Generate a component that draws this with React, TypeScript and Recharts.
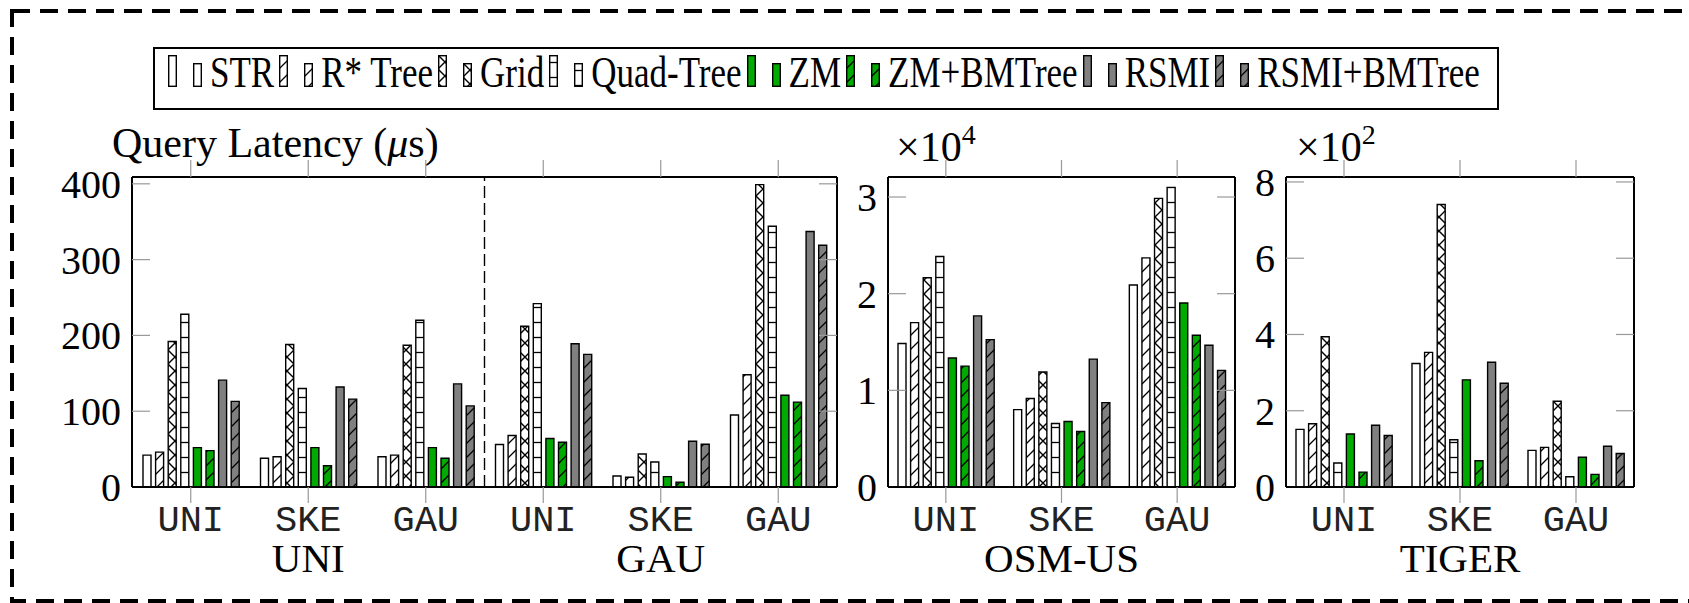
import React from 'react';
import { BarChart, Bar, XAxis, YAxis, ReferenceLine } from 'recharts';

const distributions = ['UNI', 'SKE', 'GAU'];
const methods = ['STR', 'R* Tree', 'Grid', 'Quad-Tree', 'ZM', 'ZM+BMTree', 'RSMI', 'RSMI+BMTree'];

// query latency in us, one array per query distribution, same order as methods
const uniOnUNI = [42, 46, 192, 228, 52, 48, 141, 113];
const uniOnSKE = [38, 40, 188, 130, 52, 28, 132, 116];
const uniOnGAU = [40, 42, 187, 220, 52, 38, 136, 107];

const gauOnUNI = [56, 68, 212, 242, 64, 59, 189, 175];
const gauOnSKE = [14.5, 12.8, 43.6, 33, 13.7, 6.2, 60.4, 56.4];
const gauOnGAU = [95, 148, 399, 344, 121, 112, 337, 319];

const osmOnUNI = [14850, 17000, 21650, 23850, 13350, 12500, 17700, 15250];
const osmOnSKE = [8000, 9150, 11900, 6570, 6770, 5740, 13230, 8730];
const osmOnGAU = [20900, 23700, 29860, 31000, 19040, 15700, 14670, 12060];

const tigerOnUNI = [151, 166, 394, 63, 139, 39, 162, 135];
const tigerOnSKE = [324, 353, 741, 124, 281, 69, 327, 272];
const tigerOnGAU = [96, 104, 225, 27, 78, 33, 107, 88];

const ticksUs = [0, 100, 200, 300, 400];
const ticksOsm = [0, 10000, 20000, 30000];
const ticksTiger = [0, 200, 400, 600, 800];

const fills = ['#ffffff', 'url(#hNE)', 'url(#hX)', 'url(#hH)', '#00aa00', 'url(#hNEg)', '#808080', 'url(#hNEk)'];

const makeRows = (dataset: string, rows: number[][]) =>
  rows.map((vals, i) => {
    const row: any = { key: `${dataset}/${distributions[i]}`, dataset, dist: distributions[i] };
    vals.forEach((v, j) => { row[`s${j}`] = v; });
    return row;
  });

const dataMain = [...makeRows('UNI', [uniOnUNI, uniOnSKE, uniOnGAU]), ...makeRows('GAU', [gauOnUNI, gauOnSKE, gauOnGAU])];
const dataOsm = makeRows('OSM-US', [osmOnUNI, osmOnSKE, osmOnGAU]);
const dataTiger = makeRows('TIGER', [tigerOnUNI, tigerOnSKE, tigerOnGAU]);

const serif = "'Liberation Serif', 'Times New Roman', serif";
const mono = "'Liberation Mono', 'DejaVu Sans Mono', monospace";
const tickGrey = '#999';

const CatTick = (props: any) => {
  const { x, y, payload } = props;
  const [dataset, dist] = String(payload.value).split('/');
  return (
    <g>
      <text x={x} y={y + 28} textAnchor="middle" fontFamily={mono} fontSize={37} fill="#222">{dist}</text>
      {dist === distributions[1] && (
        <text x={x} y={y + 69} textAnchor="middle" fontFamily={serif} fontSize={41} fill="#000">{dataset}</text>
      )}
    </g>
  );
};

const makeYTick = (fmt: (v: number) => string) => (props: any) => {
  const { x, y, payload } = props;
  return (
    <g>
      {payload.value !== 0 && <line x1={x + 11} x2={x + 29} y1={y} y2={y} stroke={tickGrey} strokeWidth={1.2} />}
      <text x={x} y={y} dy="0.35em" textAnchor="end" fontFamily={serif} fontSize={40} fill="#000">{fmt(payload.value)}</text>
    </g>
  );
};

const EmptyTick = () => <g />;

interface PanelProps {
  data: any[];
  left: number;
  width: number;
  plotLeft: number;
  plotRight: number;
  yWidth: number;
  domainMax: number;
  ticks: number[];
  fmt: (v: number) => string;
  divider?: string;
}

const Panel = ({ data, left, width, plotLeft, plotRight, yWidth, domainMax, ticks, fmt, divider }: PanelProps) => (
  <div style={{ position: 'absolute', left, top: 0 }}>
    <BarChart
      width={width}
      height={603}
      data={data}
      barSize={8}
      barGap={4.6}
      margin={{ top: 157, bottom: 6, left: plotLeft - left - yWidth, right: left + width - plotRight - 1 }}
    >
      <XAxis
        xAxisId="b"
        dataKey="key"
        height={110}
        interval={0}
        tickSize={16}
        tickMargin={0}
        tickLine={{ stroke: tickGrey, strokeWidth: 1.2 }}
        axisLine={{ stroke: '#000', strokeWidth: 2 }}
        tick={CatTick}
      />
      <XAxis
        xAxisId="t"
        dataKey="key"
        orientation="top"
        height={20}
        interval={0}
        tickSize={17}
        tickLine={{ stroke: tickGrey, strokeWidth: 1.2 }}
        axisLine={{ stroke: '#000', strokeWidth: 2 }}
        tick={EmptyTick}
      />
      <YAxis
        yAxisId="l"
        width={yWidth}
        domain={[0, domainMax]}
        ticks={ticks}
        allowDataOverflow
        tickLine={false}
        tickSize={11}
        tickMargin={0}
        axisLine={{ stroke: '#000', strokeWidth: 2 }}
        tick={makeYTick(fmt)}
      />
      <YAxis
        yAxisId="r"
        orientation="right"
        width={1}
        domain={[0, domainMax]}
        ticks={ticks.filter((t) => t !== 0)}
        allowDataOverflow
        tickSize={-18}
        tickLine={{ stroke: tickGrey, strokeWidth: 1.2 }}
        axisLine={{ stroke: '#000', strokeWidth: 2 }}
        tick={EmptyTick}
      />
      {methods.map((m, j) => (
        <Bar
          key={m}
          name={m}
          dataKey={`s${j}`}
          xAxisId="b"
          yAxisId="l"
          fill={fills[j]}
          stroke="#000"
          strokeWidth={1.4}
          isAnimationActive={false}
        />
      ))}
      {divider && (
        <ReferenceLine
          x={divider}
          position="start"
          xAxisId="b"
          yAxisId="l"
          stroke="#000"
          strokeWidth={1.4}
          strokeDasharray="12 5"
        />
      )}
    </BarChart>
  </div>
);

const LegendIcon = ({ fill, h }: { fill: string; h: number }) => (
  <svg width={9} height={h} style={{ display: 'block', overflow: 'visible' }}>
    <rect x={0.7} y={0.7} width={7.6} height={h - 1.4} fill={fill} stroke="#000" strokeWidth={1.4} />
  </svg>
);

const Legend = () => (
  <div
    style={{
      position: 'absolute', left: 153, top: 47, width: 1346, height: 63, boxSizing: 'border-box',
      border: '2px solid #000', display: 'flex', alignItems: 'baseline', paddingLeft: 13, paddingTop: 6,
    }}
  >
    {methods.map((m, j) => (
      <div key={m} style={{ display: 'flex', alignItems: 'baseline' }}>
        <LegendIcon fill={fills[j]} h={32} />
        <span style={{ display: 'inline-block', width: 16 }} />
        <LegendIcon fill={fills[j]} h={24} />
        <span
          style={{
            marginLeft: 8, marginRight: 5, fontFamily: serif, fontSize: 35, lineHeight: '35px',
            display: 'inline-block', transform: 'scaleY(1.25)', transformOrigin: '0 29px', color: '#000',
          }}
        >
          {m}
        </span>
      </div>
    ))}
  </div>
);

const P = 14;

const App = () => (
  <div style={{ position: 'absolute', left: 0, top: 0, width: 1689, height: 603, background: '#fff', overflow: 'hidden' }}>
    <svg width={0} height={0} style={{ position: 'absolute' }}>
      <defs>
        {[['hNE', '#ffffff'], ['hNEg', '#00aa00'], ['hNEk', '#808080']].map(([id, c]) => (
          <pattern key={id} id={id} patternUnits="userSpaceOnUse" width={P} height={P}>
            <rect width={P} height={P} fill={c} />
            <path d={`M0,${P} L${P},0 M-2,2 L2,-2 M${P - 2},${P + 2} L${P + 2},${P - 2}`} stroke="#000" strokeWidth={1.3} />
          </pattern>
        ))}
        <pattern id="hX" patternUnits="userSpaceOnUse" width={P} height={P}>
          <rect width={P} height={P} fill="#fff" />
          <path d={`M0,0 L${P},${P} M0,${P} L${P},0`} stroke="#000" strokeWidth={1.4} />
        </pattern>
        <pattern id="hH" patternUnits="userSpaceOnUse" width={15} height={15}>
          <rect width={15} height={15} fill="#fff" />
          <path d="M0,7.5 L15,7.5" stroke="#000" strokeWidth={1.3} />
        </pattern>
      </defs>
    </svg>

    <svg width={1689} height={603} style={{ position: 'absolute', left: 0, top: 0 }}>
      <rect x={12} y={11} width={1700} height={590} fill="none" stroke="#000" strokeWidth={4} strokeDasharray="18 10" />
      <text x={112} y={157} fontFamily={serif} fontSize={42} fill="#000">
        Query Latency (<tspan fontStyle="italic">μ</tspan>s)
      </text>
      <text x={896} y={161} fontFamily={serif} fontSize={42} fill="#000">
        ×10<tspan fontSize={28} dy={-17}>4</tspan>
      </text>
      <text x={1296} y={161} fontFamily={serif} fontSize={42} fill="#000">
        ×10<tspan fontSize={28} dy={-17}>2</tspan>
      </text>
    </svg>

    <Panel data={dataMain} left={0} width={850} plotLeft={132} plotRight={837} yWidth={60}
      domainMax={409} ticks={ticksUs} fmt={(v) => String(v)} divider="GAU/UNI" />
    <Panel data={dataOsm} left={840} width={410} plotLeft={888} plotRight={1235} yWidth={40}
      domainMax={32070} ticks={ticksOsm} fmt={(v) => String(v / 10000)} />
    <Panel data={dataTiger} left={1250} width={439} plotLeft={1286} plotRight={1634} yWidth={30}
      domainMax={813} ticks={ticksTiger} fmt={(v) => String(v / 100)} />

    <Legend />
  </div>
);

export default App;
